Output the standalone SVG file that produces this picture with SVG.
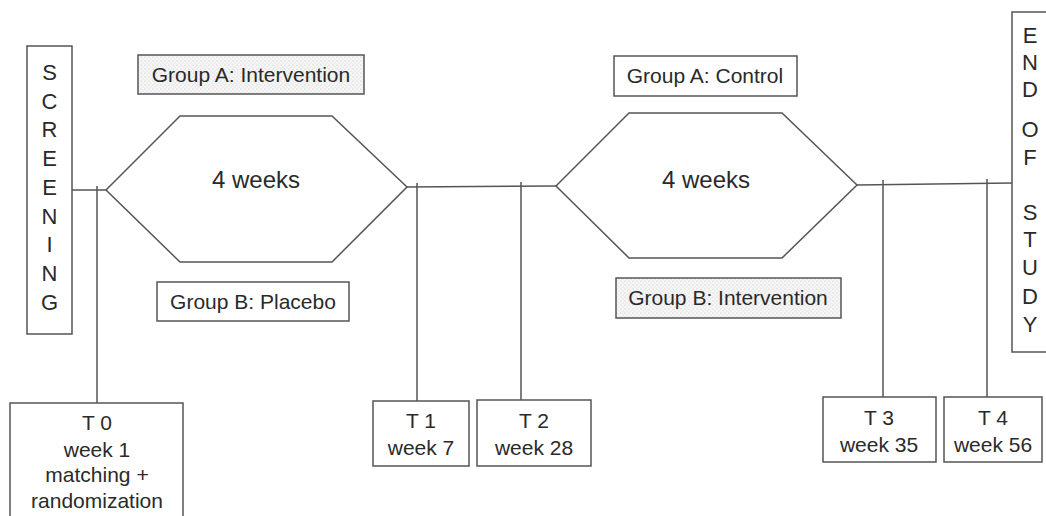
<svg xmlns="http://www.w3.org/2000/svg" width="1046" height="516" viewBox="0 0 1046 516">
<defs>
<pattern id="stip" width="4" height="4" patternUnits="userSpaceOnUse">
<rect width="4" height="4" fill="#f6f6f6"/>
<circle cx="1" cy="1" r="0.6" fill="#c4c4c4"/>
<circle cx="3" cy="3" r="0.6" fill="#d4d4d4"/>
</pattern>
</defs>
<style>
.box{fill:#fff;stroke:#555;stroke-width:1.5}
.sbox{fill:url(#stip);stroke:#555;stroke-width:1.5}
.ln{fill:none;stroke:#555;stroke-width:1.5}
text{font-family:"Liberation Sans",Arial,sans-serif;fill:#2a2a2a;text-anchor:middle}
.t21{font-size:21px}
.t22{font-size:22px}
.t24{font-size:24px}
</style>
<g id="connectors">
<line class="ln" x1="72" y1="190" x2="106" y2="190"/>
<line class="ln" x1="97" y1="186" x2="97" y2="403"/>
<line class="ln" x1="407" y1="187" x2="556" y2="186"/>
<line class="ln" x1="417" y1="183" x2="417" y2="401"/>
<line class="ln" x1="521" y1="182" x2="521" y2="400"/>
<line class="ln" x1="857" y1="185" x2="1012" y2="183"/>
<line class="ln" x1="883" y1="180" x2="883" y2="397"/>
<line class="ln" x1="987" y1="179" x2="987" y2="397"/>
</g>
<g id="screening">
<rect class="box" x="27" y="46" width="45" height="288"/>
<text class="t22" x="49.5" y="80">S</text>
<text class="t22" x="49.5" y="109">C</text>
<text class="t22" x="49.5" y="137">R</text>
<text class="t22" x="49.5" y="166">E</text>
<text class="t22" x="49.5" y="195">E</text>
<text class="t22" x="49.5" y="224">N</text>
<text class="t22" x="49.5" y="252">I</text>
<text class="t22" x="49.5" y="281">N</text>
<text class="t22" x="49.5" y="310">G</text>
</g>
<g id="end-of-study">
<rect class="box" x="1012" y="12" width="40" height="340"/>
<text class="t22" x="1030" y="43">E</text>
<text class="t22" x="1030" y="70">N</text>
<text class="t22" x="1030" y="97">D</text>
<text class="t22" x="1030" y="137">O</text>
<text class="t22" x="1030" y="165">F</text>
<text class="t22" x="1030" y="220">S</text>
<text class="t22" x="1030" y="247">T</text>
<text class="t22" x="1030" y="275">U</text>
<text class="t22" x="1030" y="304">D</text>
<text class="t22" x="1030" y="332">Y</text>
</g>
<g id="phase1">
<polygon class="box" points="106,190 180,116 332,116 407,187 332,262 180,262"/>
<text class="t24" x="256" y="188">4 weeks</text>
</g>
<g id="phase2">
<polygon class="box" points="556,186 629,113 782,113 857,185 782,258 629,258"/>
<text class="t24" x="706" y="188">4 weeks</text>
</g>
<g id="groupA-intervention">
<rect class="sbox" x="138" y="55" width="226" height="39"/>
<text class="t21" x="251" y="82">Group A: Intervention</text>
</g>
<g id="groupB-placebo">
<rect class="box" x="157" y="282" width="192" height="39"/>
<text class="t21" x="253" y="309">Group B: Placebo</text>
</g>
<g id="groupA-control">
<rect class="box" x="614" y="56" width="183" height="40"/>
<text class="t21" x="705" y="83">Group A: Control</text>
</g>
<g id="groupB-intervention">
<rect class="sbox" x="616" y="278" width="225" height="40"/>
<text class="t21" x="728" y="305">Group B: Intervention</text>
</g>
<g id="t0">
<rect class="box" x="10" y="403" width="173" height="120"/>
<text class="t21" x="97" y="430">T 0</text>
<text class="t21" x="97" y="457">week 1</text>
<text class="t21" x="97" y="482">matching +</text>
<text class="t21" x="97" y="508">randomization</text>
</g>
<g id="t1">
<rect class="box" x="373" y="401" width="96" height="65"/>
<text class="t21" x="421" y="428">T 1</text>
<text class="t21" x="421" y="455">week 7</text>
</g>
<g id="t2">
<rect class="box" x="477" y="400" width="114" height="66"/>
<text class="t21" x="534" y="428">T 2</text>
<text class="t21" x="534" y="455">week 28</text>
</g>
<g id="t3">
<rect class="box" x="823" y="397" width="113" height="65"/>
<text class="t21" x="879" y="425">T 3</text>
<text class="t21" x="879" y="452">week 35</text>
</g>
<g id="t4">
<rect class="box" x="944" y="397" width="98" height="65"/>
<text class="t21" x="993" y="425">T 4</text>
<text class="t21" x="993" y="452">week 56</text>
</g>
</svg>
